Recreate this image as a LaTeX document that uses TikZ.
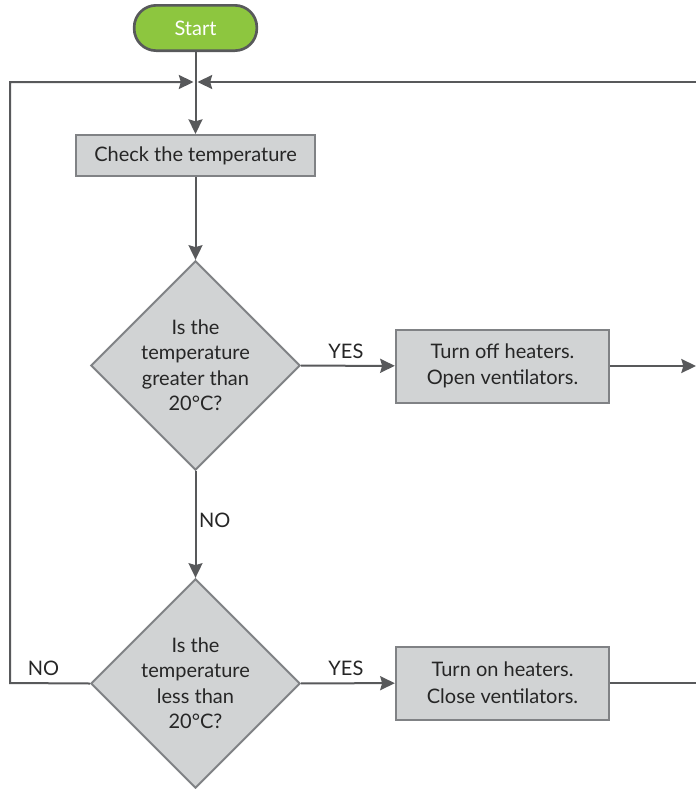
\documentclass[tikz,border=0pt]{standalone}
\usepackage{fontspec}
\setmainfont{Lato}
\usetikzlibrary{shapes.geometric,arrows.meta}
\definecolor{linec}{HTML}{58595B}
\definecolor{boxfill}{HTML}{D1D3D4}
\definecolor{boxdraw}{HTML}{808285}
\definecolor{startfill}{HTML}{8DC63F}
\definecolor{txt}{HTML}{262626}
\newcommand\ztext[1]{\raisebox{-5pt}[0pt][0pt]{\makebox[0pt]{\begin{tabular}{@{}c@{}}#1\end{tabular}}}}
\begin{document}
\begin{tikzpicture}[x=0.75pt,y=-0.75pt,
  font=\fontsize{15}{19}\selectfont, text=txt,
  startbox/.style={draw=linec, line width=2pt, fill=startfill, rounded corners=16.5pt,
    minimum width=92pt, minimum height=34pt, inner sep=0pt, text=white},
  procbox/.style={draw=boxdraw, line width=1.5pt, fill=boxfill, inner sep=0pt, align=center,
    font=\fontsize{15}{20}\selectfont},
  decbox/.style={diamond, aspect=1, draw=boxdraw, line width=1.5pt, fill=boxfill, inner sep=0pt,
    minimum width=157pt, minimum height=157pt},
  conn/.style={draw=linec, line width=1.5pt},
  arr/.style={conn, -{Stealth[length=11pt, width=10.5pt, inset=1.5pt]}},
  lab/.style={inner sep=0pt, anchor=center}
]
\useasboundingbox (0,0) rectangle (696,789);
\fill[white] (0,0) rectangle (696,789);

\node[startbox] (start) at (195.5,28) {Start};
\node[procbox, minimum width=179pt, minimum height=30.75pt] (check) at (195.5,155.5) {Check the temperature};
\node[decbox] (d1) at (195.5,365.5) {\ztext{Is the\\temperature\\greater than\\20°C?}};
\node[procbox, minimum width=160pt, minimum height=54.75pt] (b1) at (502.5,366) {Turn off heaters.\\Open ventilators.};
\node[decbox] (d2) at (195.5,683.5) {\ztext{Is the\\temperature\\less than\\20°C?}};
\node[procbox, minimum width=160pt, minimum height=54.75pt] (b2) at (502.5,683) {Turn on heaters.\\Close ventilators.};

\coordinate (ja) at (193.5,82);
\coordinate (jb) at (197.5,82);
\coordinate (lb) at (10,683);
\coordinate (rt) at (700,82);
\coordinate (r1) at (696,366);
\coordinate (r2) at (700,683);

\draw[arr] (start) -- (check);
\draw[arr] (check) -- (d1);
\draw[arr] (d1) -- node[lab, yshift=10.5pt, xshift=-1.5pt] {YES} (b1);
\draw[arr] (b1) -- (r1);
\draw[arr] (d1) -- node[lab, pos=0.46, xshift=14.5pt] {NO} (d2);
\draw[arr] (d2) -- node[lab, yshift=11pt, xshift=-1.5pt] {YES} (b2);
\draw[conn] (b2) -- (r2);
\draw[arr] (d2.west) -- node[lab, pos=0.58, yshift=11pt] {NO} (lb) |- (ja);
\draw[arr] (rt) -- (jb);
\end{tikzpicture}
\end{document}
